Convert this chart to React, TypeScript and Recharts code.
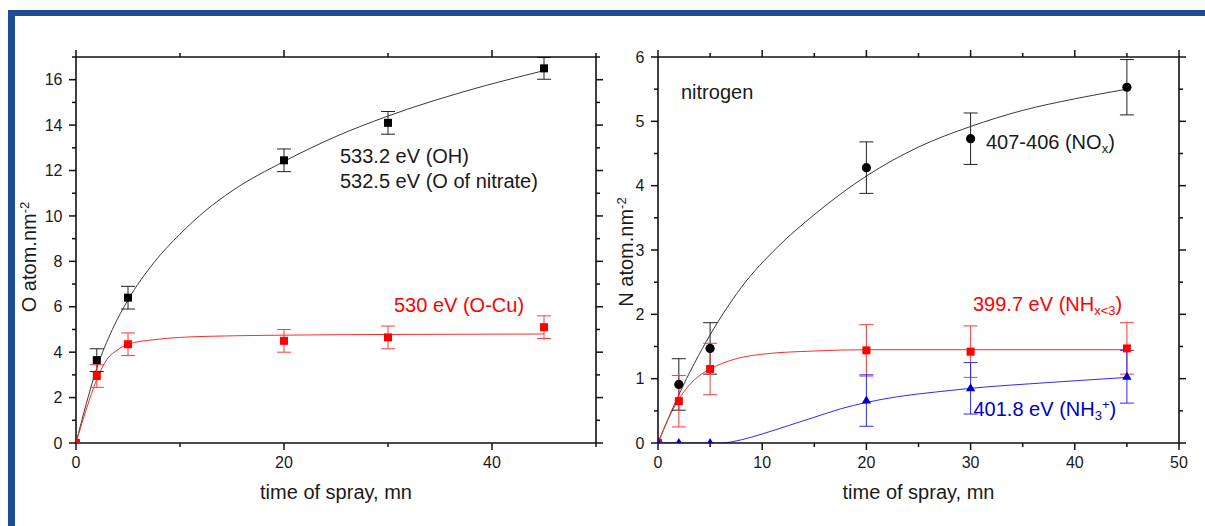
import React from 'react';
import { ComposedChart, Line, Scatter, XAxis, YAxis, ErrorBar } from 'recharts';

// ---- oxygen panel (left) ----
const oTime = [0, 2, 5, 20, 30, 45];
const oOH = [0, 3.65, 6.4, 12.45, 14.1, 16.5];
const oOHErr = [0, 0.5, 0.5, 0.5, 0.5, 0.48];
const oCu = [0, 2.95, 4.35, 4.5, 4.65, 5.1];
const oCuErr = [0, 0.5, 0.5, 0.5, 0.5, 0.5];

// fitted curves
const oOHFitX = [0, 1, 2, 3.5, 5, 7.5, 10, 12.5, 15, 20, 25, 30, 37.5, 45];
const oOHFitY = [0, 1.75, 3.3, 5.0, 6.3, 7.95, 9.2, 10.25, 11.1, 12.4, 13.5, 14.4, 15.5, 16.4];
const oCuFitX = [0, 1, 2, 3, 4, 5, 7.5, 10, 15, 20, 30, 45];
const oCuFitY = [0, 1.5, 2.8, 3.7, 4.1, 4.35, 4.55, 4.65, 4.72, 4.75, 4.78, 4.8];

const oXTicks = [0, 10, 20, 30, 40, 50];
const oXMajor = [0, 20, 40];
const oYTicks = [0, 1, 2, 3, 4, 5, 6, 7, 8, 9, 10, 11, 12, 13, 14, 15, 16, 17];
const oYMajor = [0, 2, 4, 6, 8, 10, 12, 14, 16];

// ---- nitrogen panel (right) ----
const nTime = [0, 2, 5, 20, 30, 45];
const nNOx = [0, 0.91, 1.47, 4.28, 4.73, 5.53];
const nNOxErr = [0, 0.4, 0.4, 0.4, 0.4, 0.43];
const nNHx = [0, 0.65, 1.15, 1.44, 1.42, 1.47];
const nNHxErr = [0, 0.4, 0.4, 0.4, 0.4, 0.4];
const nNH3 = [0, 0, 0, 0.66, 0.85, 1.03];
const nNH3Err = [0, 0, 0, 0.4, 0.4, 0.41];

const nNOxFitX = [0, 2, 5, 8, 11.5, 15, 20, 25, 30, 35, 40, 45];
const nNOxFitY = [0, 0.75, 1.68, 2.42, 3.05, 3.55, 4.15, 4.6, 4.92, 5.17, 5.35, 5.5];
const nNHxFitX = [0, 1, 2, 3, 4, 5, 7.5, 10, 15, 20, 30, 45];
const nNHxFitY = [0, 0.38, 0.68, 0.9, 1.05, 1.15, 1.31, 1.38, 1.43, 1.45, 1.45, 1.45];
const nNH3FitX = [0, 5, 6, 8, 10, 12.5, 15, 17.5, 20, 23, 26.5, 30, 37.5, 45];
const nNH3FitY = [0, 0, 0, 0.05, 0.14, 0.27, 0.4, 0.53, 0.63, 0.72, 0.79, 0.85, 0.94, 1.02];

const nXTicks = [0, 5, 10, 15, 20, 25, 30, 35, 40, 45, 50];
const nXMajor = [0, 10, 20, 30, 40, 50];
const nYTicks = [0, 0.5, 1, 1.5, 2, 2.5, 3, 3.5, 4, 4.5, 5, 5.5, 6];
const nYMajor = [0, 1, 2, 3, 4, 5, 6];

const pts = (xs: number[], ys: number[], es?: number[]) =>
  xs.map((x, i) => ({ x, y: ys[i], e: es ? es[i] : 0 }));

const FONT = '"Liberation Sans", Arial, sans-serif';
const AXIS = '#111';
const RED = '#ff0000';
const BLUE = '#0000c8';

const square = (fill: string) => (p: any) => (
  <rect x={p.cx - 4} y={p.cy - 4} width={8} height={8} fill={fill} />
);
const circle = (fill: string) => (p: any) => <circle cx={p.cx} cy={p.cy} r={4.6} fill={fill} />;
const triangle = (fill: string) => (p: any) => (
  <path d={`M${p.cx},${p.cy - 5} L${p.cx + 4.7},${p.cy + 3} L${p.cx - 4.7},${p.cy + 3} Z`} fill={fill} />
);

const tickFor = (side: 'bottom' | 'top' | 'left' | 'right', majors: number[], labelled: boolean) => (props: any) => {
  const { x, y, payload } = props;
  const v = payload.value;
  const major = majors.includes(v);
  const len = major ? 7 : 4;
  let x2 = x;
  let y2 = y;
  if (side === 'bottom') y2 = y + len;
  if (side === 'top') y2 = y - len;
  if (side === 'left') x2 = x - len;
  if (side === 'right') x2 = x + len;
  return (
    <g>
      <line x1={x} y1={y} x2={x2} y2={y2} stroke={AXIS} strokeWidth={1.5} />
      {labelled && major && side === 'bottom' && (
        <text x={x} y={y + 25} textAnchor="middle" fontSize={16} fontFamily={FONT} fill="#1a1a1a">{v}</text>
      )}
      {labelled && major && side === 'left' && (
        <text x={x - 13.5} y={y} dy="0.355em" textAnchor="end" fontSize={16} fontFamily={FONT} fill="#1a1a1a">{v}</text>
      )}
    </g>
  );
};

type Fit = { data: { x: number; y: number }[]; color: string; w: number };
type Series = { data: { x: number; y: number; e: number }[]; shape: any; err: string };

// axes get a 1px band (recharts skips zero-sized axes), margins are reduced by 1 to compensate
function Panel(props: {
  left: number; width: number; margin: any; yMax: number;
  xTicks: number[]; xMajor: number[]; yTicks: number[]; yMajor: number[];
  fits: Fit[]; series: Series[];
}) {
  const { left, width, margin, yMax, xTicks, xMajor, yTicks, yMajor, fits, series } = props;
  const axisLine = { stroke: AXIS, strokeWidth: 1.6 };
  return (
    <div style={{ position: 'absolute', left, top: 0 }}>
      <ComposedChart width={width} height={526} margin={margin}>
        <XAxis dataKey="x" type="number" domain={[0, 50]} allowDataOverflow ticks={xTicks} interval={0}
          height={1} tickSize={0} tickMargin={0} axisLine={axisLine} tick={tickFor('bottom', xMajor, true)} />
        <XAxis xAxisId="top" orientation="top" dataKey="x" type="number" domain={[0, 50]} allowDataOverflow ticks={xTicks} interval={0}
          height={1} tickSize={0} tickMargin={0} axisLine={axisLine} tick={tickFor('top', xMajor, false)} />
        <YAxis type="number" domain={[0, yMax]} allowDataOverflow ticks={yTicks} interval={0}
          width={1} tickSize={0} tickMargin={0} axisLine={axisLine} tick={tickFor('left', yMajor, true)} />
        <YAxis yAxisId="right" orientation="right" type="number" domain={[0, yMax]} allowDataOverflow ticks={yTicks} interval={0}
          width={1} tickSize={0} tickMargin={0} axisLine={axisLine} tick={tickFor('right', yMajor, false)} />
        {fits.map((f, i) => (
          <Line key={'f' + i} data={f.data} dataKey="y" type="monotone" stroke={f.color} strokeWidth={f.w}
            dot={false} activeDot={false} isAnimationActive={false} />
        ))}
        {series.map((s, i) => (
          <Scatter key={'s' + i} data={s.data} dataKey="y" shape={s.shape} isAnimationActive={false}>
            <ErrorBar dataKey="e" direction="y" width={7} stroke={s.err} strokeWidth={1} isAnimationActive={false} />
          </Scatter>
        ))}
      </ComposedChart>
    </div>
  );
}

const Txt = ({ x, base, color = '#1a1a1a', size = 20, center = false, children }: any) => (
  <div style={{
    position: 'absolute', left: x, top: base - 0.8465 * size, fontSize: size, lineHeight: `${size}px`,
    color, whiteSpace: 'nowrap', transform: center ? 'translateX(-50%)' : undefined,
  }}>{children}</div>
);
const Sub = ({ children }: any) => (
  <span style={{ fontSize: '0.65em', position: 'relative', top: '0.3em', lineHeight: 0 }}>{children}</span>
);
const Sup = ({ children }: any) => (
  <span style={{ fontSize: '0.65em', position: 'relative', top: '-0.55em', lineHeight: 0 }}>{children}</span>
);
const VTitle = ({ cx, cy, children }: any) => (
  <div style={{
    position: 'absolute', left: cx, top: cy, fontSize: 20, lineHeight: '20px', color: '#1a1a1a',
    whiteSpace: 'nowrap', transform: 'translate(-50%, -50%) rotate(-90deg)',
  }}>{children}</div>
);

export default function App() {
  return (
    <div style={{ position: 'absolute', left: 0, top: 0, width: 1205, height: 526, background: '#fff', overflow: 'hidden', fontFamily: FONT }}>
      {/* blue frame */}
      <div style={{ position: 'absolute', left: 8, top: 10, width: 1197, height: 6, background: '#1e4d92' }} />
      <div style={{ position: 'absolute', left: 8, top: 10, width: 7, height: 516, background: '#1e4d92' }} />

      <Panel left={0} width={612} margin={{ top: 56, right: 15, bottom: 82, left: 75 }} yMax={17}
        xTicks={oXTicks} xMajor={oXMajor} yTicks={oYTicks} yMajor={oYMajor}
        fits={[
          { data: pts(oOHFitX, oOHFitY), color: '#222', w: 0.9 },
          { data: pts(oCuFitX, oCuFitY), color: '#ff2a2a', w: 1 },
        ]}
        series={[
          { data: pts(oTime, oOH, oOHErr), shape: square('#000'), err: '#222' },
          { data: pts(oTime, oCu, oCuErr), shape: square(RED), err: '#ff3a3a' },
        ]} />

      <Panel left={600} width={605} margin={{ top: 56, right: 25, bottom: 82, left: 57 }} yMax={6}
        xTicks={nXTicks} xMajor={nXMajor} yTicks={nYTicks} yMajor={nYMajor}
        fits={[
          { data: pts(nNOxFitX, nNOxFitY), color: '#222', w: 0.9 },
          { data: pts(nNHxFitX, nNHxFitY), color: '#ff2a2a', w: 1 },
          { data: pts(nNH3FitX, nNH3FitY), color: '#2a2aff', w: 1 },
        ]}
        series={[
          { data: pts(nTime, nNOx, nNOxErr), shape: circle('#000'), err: '#222' },
          { data: pts(nTime, nNHx, nNHxErr), shape: square(RED), err: '#ff3a3a' },
          { data: pts(nTime, nNH3, nNH3Err), shape: triangle(BLUE), err: '#2a2aff' },
        ]} />

      {/* axis titles */}
      <VTitle cx={28.6} cy={257}>O atom.nm<Sup>-2</Sup></VTitle>
      <VTitle cx={626.4} cy={252}>N atom.nm<Sup>-2</Sup></VTitle>
      <Txt x={336} base={499} center>time of spray, mn</Txt>
      <Txt x={918.5} base={499} center>time of spray, mn</Txt>

      {/* annotations */}
      <Txt x={340} base={162.7}>533.2 eV (OH)</Txt>
      <Txt x={340} base={188.3}>532.5 eV (O of nitrate)</Txt>
      <Txt x={394} base={312} color={RED}>530 eV (O-Cu)</Txt>
      <Txt x={681} base={99}>nitrogen</Txt>
      <Txt x={986} base={149.3}>407-406 (NO<Sub>x</Sub>)</Txt>
      <Txt x={973} base={310.7} color={RED}>399.7 eV (NH<Sub>x&lt;3</Sub>)</Txt>
      <Txt x={973.5} base={415.7} color={BLUE}>401.8 eV (NH<Sub>3</Sub><Sup>+</Sup>)</Txt>
    </div>
  );
}
